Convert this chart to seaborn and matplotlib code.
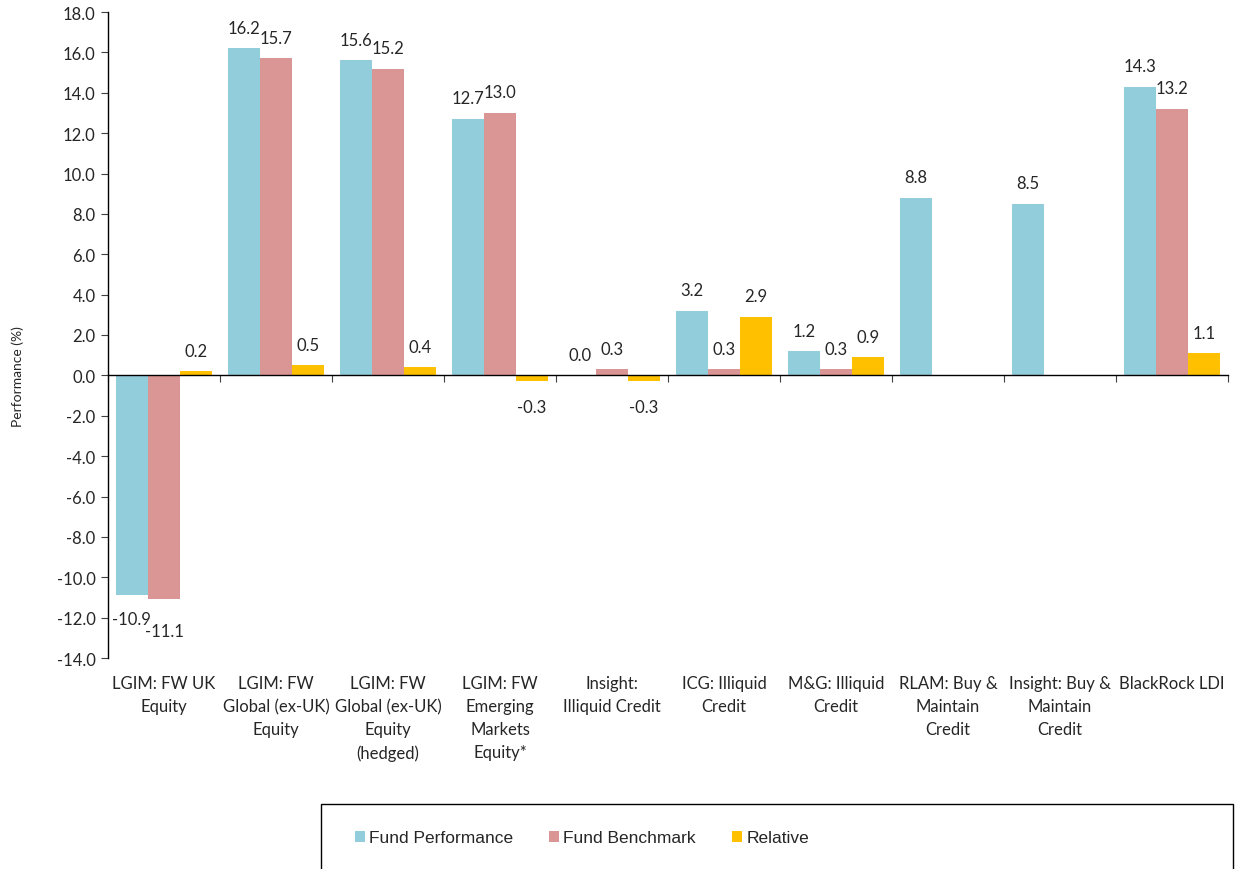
import matplotlib
matplotlib.use("Agg")

import matplotlib.pyplot as plt
import pandas as pd
import seaborn as sns
from matplotlib.patches import Rectangle

# Datos
FUNDS = [
    "LGIM: FW UK\nEquity",
    "LGIM: FW\nGlobal (ex-UK)\nEquity",
    "LGIM: FW\nGlobal (ex-UK)\nEquity\n(hedged)",
    "LGIM: FW\nEmerging\nMarkets\nEquity*",
    "Insight:\nIlliquid Credit",
    "ICG: Illiquid\nCredit",
    "M&G: Illiquid\nCredit",
    "RLAM: Buy &\nMaintain\nCredit",
    "Insight: Buy &\nMaintain\nCredit",
    "BlackRock LDI",
]
FUND_PERFORMANCE = [-10.9, 16.2, 15.6, 12.7, 0.0, 3.2, 1.2, 8.8, 8.5, 14.3]
FUND_BENCHMARK = [-11.1, 15.7, 15.2, 13.0, 0.3, 0.3, 0.3, None, None, 13.2]
RELATIVE = [0.2, 0.5, 0.4, -0.3, -0.3, 2.9, 0.9, None, None, 1.1]

SERIES = ["Fund Performance", "Fund Benchmark", "Relative"]
COLORS = ["#92CDDC", "#DA9694", "#FFC000"]
Y_TICKS = [v for v in range(-14, 19, 2)]

# Desplazamiento (pt) de las etiquetas negativas por serie
NEG_LABEL_OFFSET = {SERIES[0]: -11, SERIES[1]: -17, SERIES[2]: -13}

W, H = 1236, 870


def build_frame() -> pd.DataFrame:
    wide = pd.DataFrame({
        "fund": FUNDS,
        SERIES[0]: FUND_PERFORMANCE,
        SERIES[1]: FUND_BENCHMARK,
        SERIES[2]: RELATIVE,
    })
    long = wide.melt(id_vars="fund", var_name="series", value_name="value")
    return long.dropna(subset=["value"])


def plot_performance(df: pd.DataFrame, save_path: str = "out.png") -> None:
    sns.set_style("ticks")
    plt.rcParams["font.family"] = ["Lato", "DejaVu Sans"]

    fig = plt.figure(figsize=(W / 100, H / 100), dpi=100)
    ax = fig.add_axes([108 / W, 1 - 659 / H, (1228 - 108) / W, (659 - 13) / H])

    sns.barplot(
        data=df, x="fund", y="value", hue="series",
        order=FUNDS, hue_order=SERIES, palette=COLORS, saturation=1,
        width=0.86, errorbar=None, linewidth=0, ax=ax,
    )

    # Etiquetas de datos
    for series, container in zip(SERIES, ax.containers):
        for bar in container:
            h = bar.get_height()
            x = bar.get_x() + bar.get_width() / 2
            if h >= 0:
                ax.annotate(f"{h:.1f}", (x, h), xytext=(0, 9), textcoords="offset points",
                            ha="center", va="bottom", fontsize=12)
            else:
                ax.annotate(f"{h:.1f}", (x, h), xytext=(0, NEG_LABEL_OFFSET[series]),
                            textcoords="offset points", ha="center", va="top", fontsize=12)

    ax.set_ylim(-14, 18)
    ax.set_yticks(Y_TICKS, [f"{v:.1f}" for v in Y_TICKS])
    ax.set_xlim(-0.5, len(FUNDS) - 0.5)
    ax.set_xlabel("")
    ax.set_ylabel("")

    # Eje X en cero con marcas entre categorias
    ax.spines["bottom"].set_position(("data", 0))
    ax.spines["top"].set_visible(False)
    ax.spines["right"].set_visible(False)
    for side in ["left", "bottom"]:
        ax.spines[side].set_color("#000000")
        ax.spines[side].set_linewidth(1.0)
    ax.set_xticks([i - 0.5 for i in range(len(FUNDS) + 1)], [""] * (len(FUNDS) + 1))
    ax.tick_params(axis="x", direction="out", length=5, color="#404040")
    ax.tick_params(axis="y", direction="out", length=5, color="#404040",
                   labelsize=12, pad=4)

    # Etiquetas de categoria debajo del area de grafico
    sec = ax.secondary_xaxis(0)
    sec.set_xticks(range(len(FUNDS)), FUNDS)
    sec.tick_params(length=0, pad=12, labelsize=12)
    for lbl in sec.get_xticklabels():
        lbl.set_linespacing(1.55)
    sec.spines["bottom"].set_visible(False)

    fig.text(18 / W, 1 - 377 / H, "Performance (%)", rotation=90,
             ha="center", va="center", fontsize=10)

    # Leyenda con recuadro que sale por el borde inferior
    sns.move_legend(
        ax, "center", bbox_to_anchor=(582 / W, 1 - 839 / H),
        bbox_transform=fig.transFigure, ncol=3, frameon=False, title=None,
        prop={"family": "Liberation Sans", "size": 12.5},
        handlelength=0.55, handleheight=0.55, handletextpad=0.25,
        columnspacing=2.1,
    )
    fig.add_artist(Rectangle((321 / W, -0.05), (1233 - 321) / W, 0.05 + 1 - 805 / H,
                             transform=fig.transFigure, fill=False,
                             edgecolor="#000000", linewidth=1.0))

    fig.savefig(save_path, dpi=100)
    plt.close(fig)


if __name__ == "__main__":
    plot_performance(build_frame())
